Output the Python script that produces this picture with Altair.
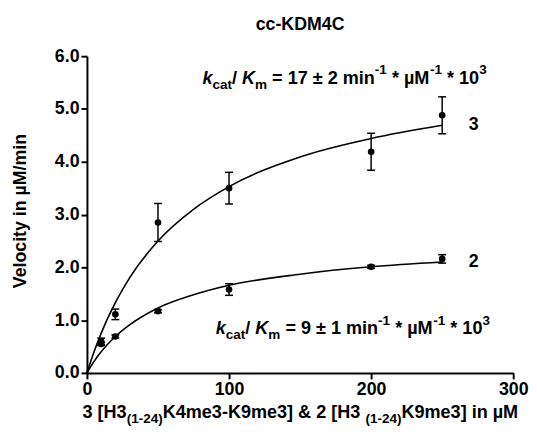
import altair as alt
import pandas as pd

# ---------------- data ----------------
conc = [10, 20, 50, 100, 200, 250]
v3 = [0.60, 1.11, 2.85, 3.50, 4.19, 4.88]
e3 = [0.06, 0.10, 0.36, 0.30, 0.35, 0.35]
v2 = [0.55, 0.69, 1.17, 1.58, 2.01, 2.16]
e2 = [0.03, 0.03, 0.03, 0.11, 0.03, 0.08]

fit_x = [0, 5, 10, 20, 30, 50, 75, 100, 150, 200, 250]
fit3 = [0.0, 0.40, 0.75, 1.33, 1.80, 2.50, 3.10, 3.53, 4.09, 4.44, 4.69]
fit2 = [0.0, 0.22, 0.40, 0.69, 0.91, 1.23, 1.48, 1.66, 1.87, 2.01, 2.10]

series_names = ["3", "2"]
x_ticks = [0, 100, 200, 300]
y_ticks = [0, 1, 2, 3, 4, 5, 6]

FONT = "Liberation Sans"
W, H = 432, 321

pts = pd.DataFrame(
    [{"s": "3", "x": c, "y": v, "lo": v - e, "hi": v + e} for c, v, e in zip(conc, v3, e3)]
    + [{"s": "2", "x": c, "y": v, "lo": v - e, "hi": v + e} for c, v, e in zip(conc, v2, e2)]
)
fit = pd.DataFrame(
    [{"s": "3", "x": a, "y": b} for a, b in zip(fit_x, fit3)]
    + [{"s": "2", "x": a, "y": b} for a, b in zip(fit_x, fit2)]
)
ends = pd.DataFrame({"s": series_names, "x": [fit_x[-1], fit_x[-1]], "y": [fit3[-1], fit2[-1]]})

# ---------------- rich-text helper (Arial/Liberation Bold widths) ----------------
WID = {" ": 278, "(": 333, ")": 333, "*": 389, "-": 333, "/": 278, "=": 584, "[": 333,
       "]": 333, "&": 722, "H": 722, "K": 722, "M": 833, "a": 556, "c": 556, "e": 556,
       "i": 278, "k": 556, "m": 889, "n": 611, "t": 333, "µ": 611, "±": 549}
for d in "0123456789":
    WID[d] = 556

BIG, SMALL = 18.3, 13.7


def width(s, size):
    return sum(WID.get(ch, 556) for ch in s) / 1000 * size


def rich(pieces, x0, y0):
    rows, x = [], x0
    for txt, kind in pieces:
        size = SMALL if kind in ("sub", "sup") else BIG
        dy = 5 if kind == "sub" else (-9.5 if kind == "sup" else 0)
        core = txt.strip(" ")
        lead = len(txt) - len(txt.lstrip(" "))
        trail = len(txt) - len(txt.rstrip(" "))
        x += width(" " * lead, size)
        rows.append({"t": core, "px": x, "py": y0 + dy, "fs": size,
                     "it": "italic" if kind == "i" else "normal"})
        x += width(core, size) + width(" " * trail, size)
    return rows


def kk(val, x0, y0):
    return rich([("k", "i"), ("cat", "sub"), ("/ ", "n"), ("K", "i"), ("m", "sub"),
                 (" = " + val + " min", "n"), ("-1", "sup"), (" * µM", "n"), ("-1", "sup"),
                 (" * 10", "n"), ("3", "sup")], x0, y0)


rows = (kk("17 ± 2", 117, 28) + kk("9 ± 1", 130.5, 282)
        + rich([("3 [H3", "n"), ("(1-24)", "sub"), ("K4me3-K9me3] & 2 [H3 ", "n"),
                ("(1-24)", "sub"), ("K9me3] in µM", "n")], -4.5, 367))
txt = pd.DataFrame(rows)

# ---------------- chart ----------------
xs = alt.Scale(domain=[0, 300], nice=False)
ys = alt.Scale(domain=[0, 6], nice=False)

axis_common = dict(labelFont=FONT, labelFontSize=18, labelFontWeight="bold", labelColor="black",
                   domainColor="black", tickColor="black", domainWidth=2, tickWidth=2,
                   tickSize=6, grid=False, title=None, labelFlush=False)

lines = alt.Chart(fit).mark_line(color="black", strokeWidth=1.6, interpolate="monotone").encode(
    x=alt.X("x:Q", scale=xs, axis=alt.Axis(values=x_ticks, labelPadding=2, **axis_common)),
    y=alt.Y("y:Q", scale=ys, axis=alt.Axis(values=y_ticks, format=".1f", labelPadding=2, **axis_common)),
    detail="s:N",
)

bars = alt.Chart(pts).mark_rule(color="black", strokeWidth=1.5).encode(
    x=alt.X("x:Q", scale=xs), y=alt.Y("lo:Q", scale=ys), y2="hi:Q")

caps = alt.Chart(pts).transform_fold(["lo", "hi"], as_=["k", "v"]).mark_tick(
    color="black", orient="horizontal", size=8, thickness=1.5, opacity=1).encode(
    x=alt.X("x:Q", scale=xs), y=alt.Y("v:Q", scale=ys))

dots = alt.Chart(pts).mark_circle(color="black", size=45, opacity=1).encode(
    x=alt.X("x:Q", scale=xs), y=alt.Y("y:Q", scale=ys))

labels = alt.Chart(ends).mark_text(font=FONT, fontSize=18, fontWeight="bold", dx=32,
                                   align="center", baseline="middle", color="black").encode(
    x=alt.X("x:Q", scale=xs), y=alt.Y("y:Q", scale=ys), text="s:N")

base_txt = alt.Chart(txt)
rt_normal = base_txt.transform_filter("datum.it == 'normal'").mark_text(
    font=FONT, fontWeight="bold", align="left", baseline="alphabetic", color="black").encode(
    x=alt.X("px:Q", scale=None), y=alt.Y("py:Q", scale=None),
    size=alt.Size("fs:Q", scale=None, legend=None), text="t:N")
rt_italic = base_txt.transform_filter("datum.it == 'italic'").mark_text(
    font=FONT, fontWeight="bold", fontStyle="italic", align="left", baseline="alphabetic",
    color="black").encode(
    x=alt.X("px:Q", scale=None), y=alt.Y("py:Q", scale=None),
    size=alt.Size("fs:Q", scale=None, legend=None), text="t:N")

title = alt.Chart(pd.DataFrame({"t": ["cc-KDM4C"]})).mark_text(
    font=FONT, fontSize=18, fontWeight="bold", align="center", baseline="alphabetic",
    color="black").encode(x=alt.value(W / 2), y=alt.value(-27), text="t:N")

ytitle = alt.Chart(pd.DataFrame({"t": ["Velocity in µM/min"]})).mark_text(
    font=FONT, fontSize=18, fontWeight="bold", align="center", baseline="middle",
    angle=270, color="black").encode(x=alt.value(-67), y=alt.value(157), text="t:N")

data_layers = alt.layer(lines, bars, caps, dots, labels)

chart = alt.layer(data_layers, rt_normal, rt_italic, title, ytitle).properties(
    width=W, height=H, autosize="none",
    padding={"left": 80, "top": 46, "right": 16, "bottom": 55},
    background="white",
).configure_view(stroke=None)

chart.save("out.html", embed_options={"renderer": "svg", "actions": False})
